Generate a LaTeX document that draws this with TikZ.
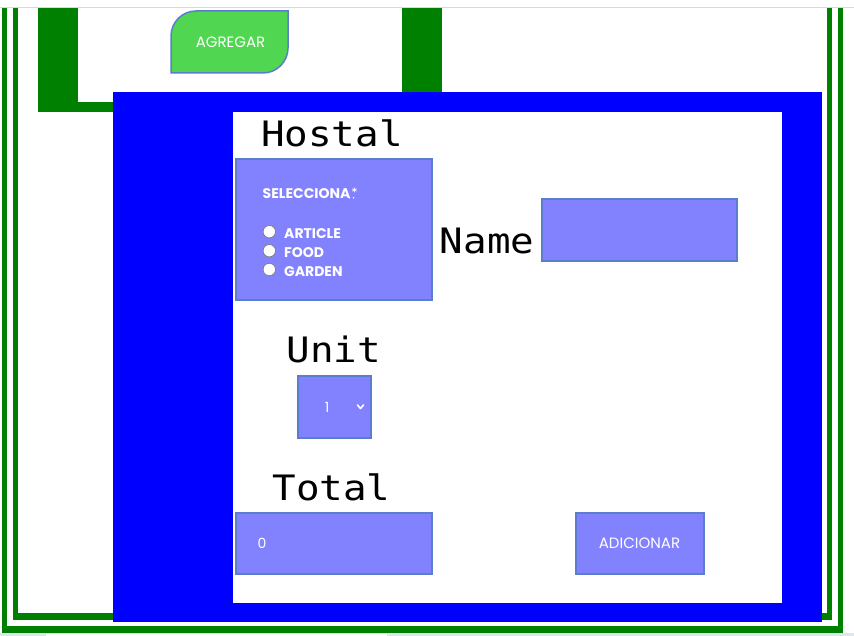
\documentclass[tikz,border=0pt]{standalone}
\usepackage{fontspec}
\newfontfamily\mono[FakeStretch=1.12]{DejaVu Sans Mono}
\newfontfamily\geo{Poppins}
\newfontfamily\dvs{DejaVu Sans}
\definecolor{grn}{RGB}{0,128,0}
\definecolor{blu}{RGB}{0,0,255}
\definecolor{fld}{RGB}{130,130,255}
\definecolor{brd}{RGB}{90,125,205}
\definecolor{btn}{RGB}{80,214,80}
\definecolor{strip}{RGB}{221,231,238}
\tikzset{
  fieldbox/.style={fill=fld,draw=brd,line width=2pt},
  bigtxt/.style={inner sep=0pt,anchor=base,font=\fontsize{35}{35}\mono,text=black},
  lbl/.style={inner sep=0pt,anchor=base west,font=\fontsize{14}{14}\geo\bfseries,text=white},
  btntxt/.style={inner sep=0pt,font=\fontsize{15}{15}\geo,text=white},
  radio/.style={circle,fill=white,draw=gray,line width=0.8pt,minimum size=12.5pt,inner sep=0pt}
}
\begin{document}
\begin{tikzpicture}[x=1pt,y=-1pt]
\useasboundingbox (0,0) rectangle (854,636);
\fill[white] (0,0) rectangle (854,636);
\draw[gray!30,line width=1pt] (0,7.5) -- (854,7.5);
% outer green U
\fill[grn] (2,8) rectangle (7,633);
\fill[grn] (838,8) rectangle (843,633);
\fill[grn] (2,626) rectangle (843,633);
% inner green U
\fill[grn] (13,8) rectangle (18,620);
\fill[grn] (827,8) rectangle (832,620);
\fill[grn] (13,613) rectangle (832,620);
% thick green frame
\fill[grn] (38,8) rectangle (442,112);
\fill[white] (78,8) rectangle (402,102);
% AGREGAR button
\draw[fill=btn,draw=brd,line width=1.5pt] (171,73) -- (171,36) .. controls (171,22.2) and (182.2,11) .. (196,11) -- (288,11) -- (288,48) .. controls (288,61.8) and (276.8,73) .. (263,73) -- cycle;
\node[btntxt] (agregar) at (230.5,42.5) {AGREGAR};
% blue panel
\fill[blu] (113,92) rectangle (822,622);
\fill[white] (233,112) rectangle (782,603);
% titles
\node[bigtxt] (hostal) at (332,147) {Hostal};
\node[bigtxt] (name) at (487,254) {Name};
\node[bigtxt] (unit) at (334,362) {Unit};
\node[bigtxt] (total) at (331.5,500) {Total};
% selection box
\draw[fieldbox] (236,159.5) rectangle (432,300.5);
\node[lbl] (sel) at (262.5,199) {SELECCIONA\hspace{1.5pt}\raisebox{3pt}{\fontsize{10}{10}\dvs\bfseries *}};
\fill[white] (349.5,197.8) circle (0.8pt);
\fill[white] (353.5,197.8) circle (0.8pt);
\node[radio] (r1) at (269.3,231.7) {};
\node[radio] (r2) at (269.3,250.7) {};
\node[radio] (r3) at (269.3,269.5) {};
\node[lbl] (article) at (284,239) {ARTICLE};
\node[lbl] (food) at (284,258) {FOOD};
\node[lbl] (garden) at (284,277) {GARDEN};
% name field
\draw[fieldbox] (541.5,199.5) rectangle (737,261);
% unit select
\draw[fieldbox] (297.5,376) rectangle (371,438);
\node[btntxt,font=\fontsize{14}{14}\geo] (one) at (327,407) {1};
\draw[white,line width=1.6pt,line cap=round,line join=round] (357.5,405) -- (360.5,408.5) -- (363.5,405);
% total field
\draw[fieldbox] (236,512.5) rectangle (432,574);
\node[btntxt,font=\fontsize{14}{14}\geo] (zero) at (262,543.5) {0};
% adicionar button
\draw[fieldbox] (575.5,512.5) rectangle (703.5,574);
\node[btntxt] (adicionar) at (639.5,543.5) {ADICIONAR};
% bottom strip
\fill[strip] (0,633) rectangle (854,636);
\draw[gray!25,fill=white,line width=0.6pt] (45,636.5) -- (45,633.5) -- (387,633.5) -- (387,636.5);
\end{tikzpicture}
\end{document}
